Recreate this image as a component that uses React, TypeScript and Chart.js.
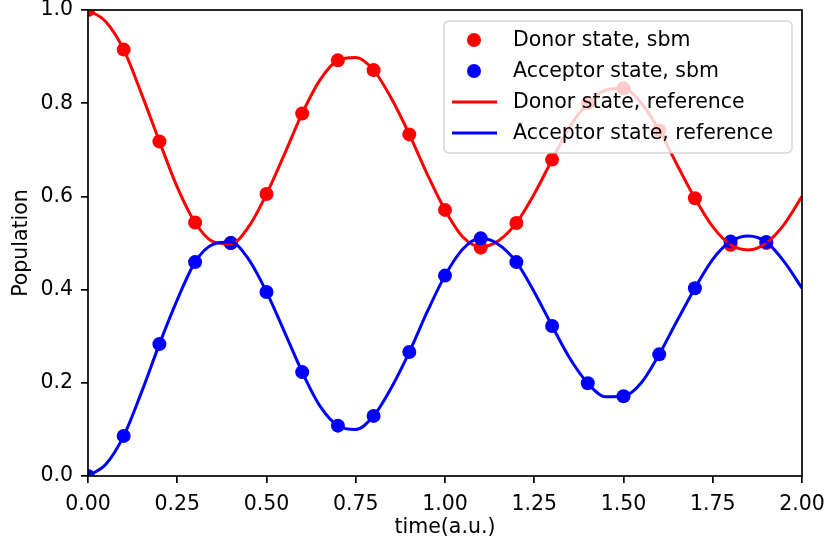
import React, { useEffect, useRef } from 'react';
import { Chart, registerables } from 'chart.js';

Chart.register(...registerables);

const FONT = '"DejaVu Sans", sans-serif';

// sbm sample times and populations
const sampleTimes = [0.0, 0.1, 0.2, 0.3, 0.4, 0.5, 0.6, 0.7, 0.8, 0.9, 1.0, 1.1, 1.2, 1.3, 1.4, 1.5, 1.6, 1.7, 1.8, 1.9];
const donorSbm = [1.0, 0.915, 0.718, 0.544, 0.5, 0.605, 0.778, 0.892, 0.871, 0.733, 0.571, 0.49, 0.543, 0.679, 0.8, 0.832, 0.742, 0.596, 0.496, 0.5];
const acceptorSbm = [0.0, 0.086, 0.283, 0.459, 0.5, 0.395, 0.223, 0.108, 0.129, 0.266, 0.43, 0.51, 0.459, 0.322, 0.199, 0.171, 0.261, 0.403, 0.503, 0.502];

// reference curve
const refTimes = [0.0, 0.05, 0.1, 0.15, 0.2, 0.25, 0.3, 0.35, 0.4, 0.45, 0.5, 0.55, 0.6, 0.65, 0.7, 0.75, 0.8, 0.85, 0.9, 0.95, 1.0, 1.05, 1.1, 1.15, 1.2, 1.25, 1.3, 1.35, 1.4, 1.45, 1.5, 1.55, 1.6, 1.65, 1.7, 1.75, 1.8, 1.85, 1.9, 1.95, 2.0];
const donorRef = [1.0, 0.975, 0.915, 0.82, 0.718, 0.62, 0.544, 0.503, 0.498, 0.535, 0.605, 0.69, 0.778, 0.85, 0.892, 0.898, 0.871, 0.81, 0.733, 0.648, 0.571, 0.513, 0.492, 0.505, 0.543, 0.605, 0.679, 0.75, 0.8, 0.828, 0.832, 0.8, 0.742, 0.668, 0.596, 0.535, 0.496, 0.485, 0.5, 0.54, 0.6];
const acceptorRef = [0.0, 0.025, 0.086, 0.18, 0.283, 0.378, 0.459, 0.497, 0.502, 0.465, 0.395, 0.31, 0.223, 0.15, 0.108, 0.1, 0.129, 0.19, 0.266, 0.352, 0.43, 0.487, 0.51, 0.497, 0.459, 0.395, 0.322, 0.252, 0.199, 0.17, 0.171, 0.2, 0.261, 0.333, 0.403, 0.465, 0.503, 0.515, 0.502, 0.46, 0.403];

const xTicks = [0, 0.25, 0.5, 0.75, 1.0, 1.25, 1.5, 1.75, 2.0];
const yTicks = [0, 0.2, 0.4, 0.6, 0.8, 1.0];

const legendOrder = ['Donor state, sbm', 'Acceptor state, sbm', 'Donor state, reference', 'Acceptor state, reference'];

const frameAndLegend = {
  id: 'frameAndLegend',
  afterDatasetsDraw(chart: any) {
    const { ctx, chartArea } = chart;
    ctx.save();
    ctx.strokeStyle = '#000';
    ctx.lineWidth = 1.7;
    ctx.strokeRect(chartArea.left, chartArea.top, chartArea.right - chartArea.left, chartArea.bottom - chartArea.top);
    ctx.restore();
  },
  afterDraw(chart: any) {
    const { ctx } = chart;
    const bx = 444, by = 21, bw = 348, bh = 132, r = 5;
    ctx.save();
    ctx.beginPath();
    ctx.moveTo(bx + r, by);
    ctx.lineTo(bx + bw - r, by);
    ctx.arcTo(bx + bw, by, bx + bw, by + r, r);
    ctx.lineTo(bx + bw, by + bh - r);
    ctx.arcTo(bx + bw, by + bh, bx + bw - r, by + bh, r);
    ctx.lineTo(bx + r, by + bh);
    ctx.arcTo(bx, by + bh, bx, by + bh - r, r);
    ctx.lineTo(bx, by + r);
    ctx.arcTo(bx, by, bx + r, by, r);
    ctx.closePath();
    ctx.fillStyle = 'rgba(255,255,255,0.8)';
    ctx.fill();
    ctx.strokeStyle = 'rgba(204,204,204,0.8)';
    ctx.lineWidth = 1.5;
    ctx.stroke();

    const rows = [40, 71, 102, 133];
    ctx.font = `20.5px ${FONT}`;
    ctx.textBaseline = 'middle';
    ctx.textAlign = 'left';
    legendOrder.forEach((label, i) => {
      const ds = chart.data.datasets.find((d: any) => d.label === label);
      if (!ds) return;
      const y = rows[i];
      if (ds.showLine === false) {
        ctx.beginPath();
        ctx.arc(474, y, 7, 0, Math.PI * 2);
        ctx.fillStyle = ds.backgroundColor;
        ctx.fill();
      } else {
        ctx.beginPath();
        ctx.moveTo(452, y);
        ctx.lineTo(497, y);
        ctx.strokeStyle = ds.borderColor;
        ctx.lineWidth = 3;
        ctx.stroke();
      }
      ctx.fillStyle = '#000';
      ctx.fillText(label, 513, y + 1);
    });
    ctx.restore();
  },
};

export default function App() {
  const canvasRef = useRef<HTMLCanvasElement | null>(null);

  useEffect(() => {
    document.body.style.margin = '0';
    const canvas = canvasRef.current;
    if (!canvas) return;

    const toPoints = (xs: number[], ys: number[]) => xs.map((x, i) => ({ x, y: ys[i] }));

    const chart = new Chart(canvas, {
      type: 'scatter',
      data: {
        datasets: [
          {
            label: 'Donor state, sbm',
            data: toPoints(sampleTimes, donorSbm),
            showLine: false,
            pointRadius: 7,
            pointBorderWidth: 0,
            backgroundColor: '#ff0000',
            borderColor: '#ff0000',
            order: 4,
            clip: 0,
          },
          {
            label: 'Acceptor state, sbm',
            data: toPoints(sampleTimes, acceptorSbm),
            showLine: false,
            pointRadius: 7,
            pointBorderWidth: 0,
            backgroundColor: '#0000ff',
            borderColor: '#0000ff',
            order: 3,
            clip: 0,
          },
          {
            label: 'Donor state, reference',
            type: 'line',
            data: toPoints(refTimes, donorRef),
            showLine: true,
            pointRadius: 0,
            borderWidth: 3,
            borderColor: '#ff0000',
            backgroundColor: '#ff0000',
            cubicInterpolationMode: 'monotone',
            fill: false,
            order: 2,
            clip: 0,
          },
          {
            label: 'Acceptor state, reference',
            type: 'line',
            data: toPoints(refTimes, acceptorRef),
            showLine: true,
            pointRadius: 0,
            borderWidth: 3,
            borderColor: '#0000ff',
            backgroundColor: '#0000ff',
            cubicInterpolationMode: 'monotone',
            fill: false,
            order: 1,
            clip: 0,
          },
        ] as any,
      },
      options: {
        responsive: false,
        animation: false,
        devicePixelRatio: 1,
        layout: { padding: { top: 10, right: 26, left: 0, bottom: 0 } },
        plugins: {
          legend: { display: false },
          tooltip: { enabled: false },
        },
        scales: {
          x: {
            type: 'linear',
            min: 0,
            max: 2,
            afterBuildTicks: (s: any) => {
              s.ticks = xTicks.map((v) => ({ value: v }));
            },
            afterFit: (s: any) => {
              s.height = 64;
              s.paddingLeft = 0;
              s.paddingRight = 0;
            },
            ticks: {
              color: '#000',
              font: { family: FONT, size: 20.5 },
              padding: 9,
              maxRotation: 0,
              autoSkip: false,
              callback: (v: any) => Number(v).toFixed(2),
            },
            grid: {
              display: true,
              drawOnChartArea: false,
              drawTicks: true,
              tickLength: 7,
              color: '#000',
              lineWidth: 1.7,
            },
            border: { display: false },
            title: {
              display: true,
              text: 'time(a.u.)',
              color: '#000',
              font: { family: FONT, size: 20.5 },
              padding: { top: 0, bottom: 0 },
            },
          },
          y: {
            type: 'linear',
            min: 0,
            max: 1,
            afterBuildTicks: (s: any) => {
              s.ticks = yTicks.map((v) => ({ value: v }));
            },
            afterFit: (s: any) => {
              s.width = 88;
              s.paddingTop = 0;
              s.paddingBottom = 0;
            },
            ticks: {
              color: '#000',
              font: { family: FONT, size: 20.5 },
              padding: 8,
              autoSkip: false,
              callback: (v: any) => Number(v).toFixed(1),
            },
            grid: {
              display: true,
              drawOnChartArea: false,
              drawTicks: true,
              tickLength: 7,
              color: '#000',
              lineWidth: 1.7,
            },
            border: { display: false },
            title: {
              display: true,
              text: 'Population',
              color: '#000',
              font: { family: FONT, size: 20.5 },
              padding: { top: 9, bottom: 0 },
            },
          },
        },
      },
      plugins: [frameAndLegend],
    });

    return () => {
      chart.destroy();
    };
  }, []);

  return (
    <div style={{ width: 828, height: 540 }}>
      <canvas ref={canvasRef} width={828} height={540} />
    </div>
  );
}
